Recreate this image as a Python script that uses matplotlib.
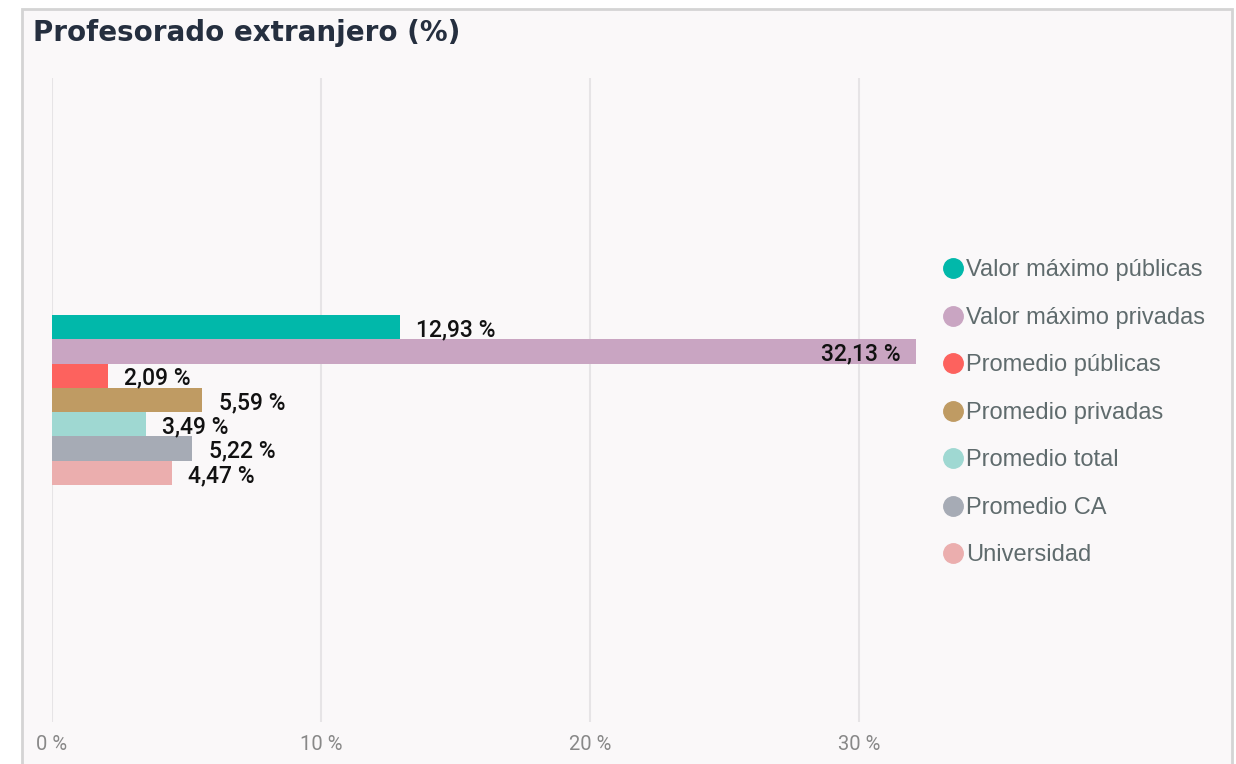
import matplotlib.pyplot as plt
import numpy as np
from matplotlib.patches import Rectangle
from matplotlib.lines import Line2D

# data
series = ['Valor máximo públicas', 'Valor máximo privadas', 'Promedio públicas',
          'Promedio privadas', 'Promedio total', 'Promedio CA', 'Universidad']
values = [12.93, 32.13, 2.09, 5.59, 3.49, 5.22, 4.47]
colors = ['#01b8aa', '#c9a5c2', '#fd625e', '#bf9b63', '#9fd8d2', '#a6abb5', '#ebaeae']
xticks = [0, 10, 20, 30]

W, H = 1236, 764
fig = plt.figure(figsize=(W / 100, H / 100), dpi=100)
fig.patch.set_facecolor('white')

# card background + border
card = Rectangle((22 / W, -0.01), (1232 - 22) / W, (H - 9) / H + 0.01, transform=fig.transFigure,
                 facecolor='#faf8f9', edgecolor='#d4d4d4', linewidth=2, zorder=-5)
fig.patches.append(card)

fig.text(33 / W, 1 - 33 / H, 'Profesorado extranjero (%)', fontsize=20, fontweight='heavy',
         color='#252f3f', va='center', ha='left', family='DejaVu Sans', zorder=5)

# axes placed in pixel terms: x=0 at 52px, 10 units = 269px
x0, ppu = 52, 26.9
xmax = 33
ax_top, ax_bot = 78, 722
ax = fig.add_axes([x0 / W, 1 - ax_bot / H, xmax * ppu / W, (ax_bot - ax_top) / H])
ax.set_facecolor('none')
ax.set_zorder(2)

n = len(values)
group = 0.8
h = group / n
ypos = [(i - (n - 1) / 2) * h for i in range(n)]
span = (ax_bot - ax_top) / (170 / group)  # group is 170px tall
ax.set_ylim(span / 2, -span / 2)
ax.set_xlim(0, xmax)

ax.barh(ypos, values, height=h, color=colors, zorder=2)

lbl_font = ['Roboto', 'DejaVu Sans']
for y, v in zip(ypos, values):
    txt = f'{v:.2f} %'.replace('.', ',')
    if v > 25:
        ax.text(v - 0.6, y + 0.012, txt, ha='right', va='center', fontsize=16.5,
                color='#111111', family=lbl_font, fontweight='medium', zorder=3)
    else:
        ax.text(v + 0.6, y + 0.012, txt, ha='left', va='center', fontsize=16.5,
                color='#111111', family=lbl_font, fontweight='medium', zorder=3)

ax.set_xticks(xticks)
ax.set_xticklabels([f'{t} %' for t in xticks], fontsize=14.5, color='#888888', family=lbl_font)
ax.tick_params(axis='x', length=0, pad=9)
ax.set_yticks([])
ax.grid(axis='x', color='#e6e4e6', linewidth=1.5, zorder=1)
for s in ax.spines.values():
    s.set_visible(False)

# legend drawn as figure-level handles
handles = [Line2D([], [], marker='o', linestyle='none', markersize=14,
                  markerfacecolor=c, markeredgecolor=c) for c in colors]
leg = fig.legend(handles, series, loc='upper left', bbox_to_anchor=(931 / W, 1 - 250 / H),
                 frameon=False, labelcolor='#5f6b6d', handletextpad=0.0,
                 handlelength=1.1, labelspacing=1.08, borderaxespad=0,
                 prop={'family': 'Liberation Sans', 'size': 17})

fig.savefig('out.png', dpi=100, facecolor='white')
